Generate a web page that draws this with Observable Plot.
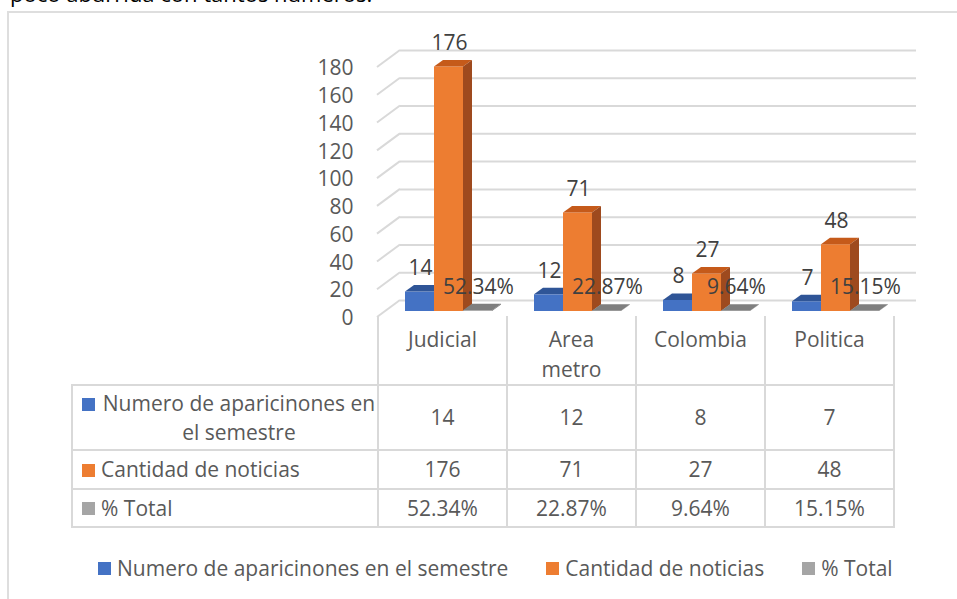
<!DOCTYPE html>
<html>
<head>
<meta charset="utf-8">
<script src="https://cdn.jsdelivr.net/npm/d3@7"></script>
<script src="https://cdn.jsdelivr.net/npm/@observablehq/plot@0.6"></script>
<style>
  html, body { margin: 0; padding: 0; background: #fff; overflow: hidden; }
  #page { position: relative; width: 957px; height: 599px; overflow: hidden; font-family: "Open Sans", sans-serif; color: #595959; }
  #intro { position: absolute; left: 10px; top: -18px; font-size: 22px; line-height: 22px; color: #000; white-space: nowrap; }
  #frame { position: absolute; left: 7px; top: 11px; width: 1000px; height: 700px; border-left: 2px solid #dedede; border-top: 2px solid #dedede; }
  #chart { position: absolute; left: 0; top: 0; }
  #table { position: absolute; left: 71px; top: 316px; }
  #table table { border-collapse: collapse; table-layout: fixed; font-size: 21px; color: #595959; }
  #table td { border: 2px solid #d9d9d9; padding: 0; text-align: center; vertical-align: middle; line-height: 29px; }
  #table td.corner { border: none; }
  #table td.cat { border-top: none; vertical-align: top; padding-top: 8px; white-space: pre-line; line-height: 30px; }
  #table td.lab { position: relative; text-align: left; padding-left: 28px; }
  #table td.lab.wrap { text-align: center; white-space: pre-line; }
  #table td.lab .sw { position: absolute; left: 9px; top: calc(50% - 6px); width: 13px; height: 13px; }
  #table td.lab.wrap .sw { top: 12px; }
  #legend { position: absolute; left: 98px; top: 553px; display: flex; gap: 38px; font-size: 21px; line-height: 30px; color: #595959; white-space: nowrap; }
  #legend .item { display: flex; align-items: center; }
  #legend .sw { width: 13px; height: 13px; margin-right: 6px; }
</style>
</head>
<body>
<div id="page">
  <div id="intro">poco aburrida con tantos números.</div>
  <div id="frame"></div>
  <div id="chart"></div>
  <div id="table"></div>
  <div id="legend"></div>
</div>
<script>
// ---- data ----
const categories = ["Judicial", "Area metro", "Colombia", "Politica"];
const categoryLabels = ["Judicial", "Area\nmetro", "Colombia", "Politica"];
const seriesNames = ["Numero de aparicinones en el semestre", "Cantidad de noticias", "% Total"];
const seriesRowLabels = ["Numero de aparicinones en\nel semestre", "Cantidad de noticias", "% Total"];
const apariciones = [14, 12, 8, 7];
const noticias = [176, 71, 27, 48];
const porcentaje = [0.5234, 0.2287, 0.0964, 0.1515];
const yTicks = [0, 20, 40, 60, 80, 100, 120, 140, 160, 180];

// ---- styles ----
const series = [
  {name: seriesNames[0], row: seriesRowLabels[0], values: apariciones, color: "#4472C4", top: "#2F5597", side: "#264478", slot: -1, fmt: d3.format("d")},
  {name: seriesNames[1], row: seriesRowLabels[1], values: noticias, color: "#ED7D31", top: "#C55A1A", side: "#9E4A1E", slot: 0, fmt: d3.format("d")},
  {name: seriesNames[2], row: seriesRowLabels[2], values: porcentaje, color: "#A5A5A5", top: "#7F7F7F", side: "#6A6A6A", slot: 1, fmt: d3.format(".2%")}
];
const rowHeights = [65, 39, 38];

const X0 = 377, X1 = 893;
const PIN = 100 / 129;
const BW = (X1 - X0) / categories.length * (1 - PIN);
const BAR = {dx: 7, dy: -6};      // bar front face sits behind the front plane
const BARD = {dx: 9, dy: -6.5};   // bar depth
const WALL = {dx: 23, dy: -17};   // back wall offset
const GRID = "#d9d9d9";
const FS = 21;

function bars3d(s) {
  const rows = categories.map((c, i) => ({category: c, value: s.values[i]}));
  return Plot.barY(rows, {
    x: "category", y: "value", fill: s.color,
    render(index, scales, values) {
      const bw = scales.x.bandwidth();
      const g = d3.create("svg:g");
      for (const i of index) {
        const x0 = values.x[i] + s.slot * bw + BAR.dx, x1 = x0 + bw;
        const ya = values.y1[i], yb = values.y2[i];
        const yt = Math.min(ya, yb) + BAR.dy, ybot = Math.max(ya, yb) + BAR.dy;
        g.append("path").attr("fill", s.color)
          .attr("d", `M${x0},${yt}H${x1}V${ybot}H${x0}Z`);
        g.append("path").attr("fill", s.top)
          .attr("d", `M${x0},${yt}L${x1},${yt}L${x1 + BARD.dx},${yt + BARD.dy}L${x0 + BARD.dx},${yt + BARD.dy}Z`);
        g.append("path").attr("fill", s.side)
          .attr("d", `M${x1},${yt}L${x1 + BARD.dx},${yt + BARD.dy}L${x1 + BARD.dx},${ybot + BARD.dy}L${x1},${ybot}Z`);
      }
      return g.node();
    }
  });
}

function labels(s) {
  const rows = categories.map((c, i) => ({category: c, value: s.values[i]}));
  return Plot.text(rows, {
    x: "category", y: "value", text: d => s.fmt(d.value),
    dx: s.slot * BW + BAR.dx + 0.5, dy: -30,
    fill: "#404040", fontSize: FS, fontFamily: "Open Sans"
  });
}

const chart = Plot.plot({
  width: 957, height: 335,
  marginLeft: X0, marginRight: 957 - X1, marginTop: 0, marginBottom: 0,
  x: {domain: categories, range: [X0, X1], paddingInner: PIN, paddingOuter: PIN / 2, round: false, axis: null},
  y: {domain: [0, 180], range: [317, 67], axis: null},
  style: {background: "transparent", fontFamily: "Open Sans", fontSize: FS + "px", color: "#595959", overflow: "visible"},
  marks: [
    Plot.ruleY(yTicks, {y: d => d, dx: WALL.dx, dy: WALL.dy, stroke: GRID, strokeWidth: 2}),
    Plot.ruleY(yTicks, {
      y: d => d,
      render(index, scales, values, dims) {
        const g = d3.create("svg:g").attr("stroke", GRID).attr("stroke-width", 2);
        const x0 = dims.marginLeft;
        for (const i of index) {
          g.append("line").attr("x1", x0).attr("y1", values.y[i])
            .attr("x2", x0 + WALL.dx).attr("y2", values.y[i] + WALL.dy);
        }
        return g.node();
      }
    }),
    Plot.text(yTicks, {y: d => d, text: d => String(d), frameAnchor: "left", dx: -24, dy: 1, textAnchor: "end", fill: "#595959", fontSize: FS}),
    ...series.map(bars3d),
    ...series.map(labels)
  ]
});
document.getElementById("chart").appendChild(chart);

// ---- data table ----
const tbl = d3.select("#table").append("table");
const cg = tbl.append("colgroup");
cg.append("col").style("width", "306px");
categories.forEach(() => cg.append("col").style("width", "129px"));
const hr = tbl.append("tr").style("height", "68px");
hr.append("td").attr("class", "corner");
categoryLabels.forEach(l => hr.append("td").attr("class", "cat").text(l));
series.forEach((s, k) => {
  const tr = tbl.append("tr").style("height", rowHeights[k] + "px");
  const lab = tr.append("td").attr("class", k === 0 ? "lab wrap" : "lab");
  lab.append("span").attr("class", "sw").style("background", s.color);
  lab.append("span").text(s.row);
  s.values.forEach(v => tr.append("td").text(s.fmt(v)));
});

// ---- legend ----
const lg = d3.select("#legend");
series.forEach(s => {
  const it = lg.append("div").attr("class", "item");
  it.append("span").attr("class", "sw").style("background", s.color);
  it.append("span").text(s.name);
});
</script>
</body>
</html>
